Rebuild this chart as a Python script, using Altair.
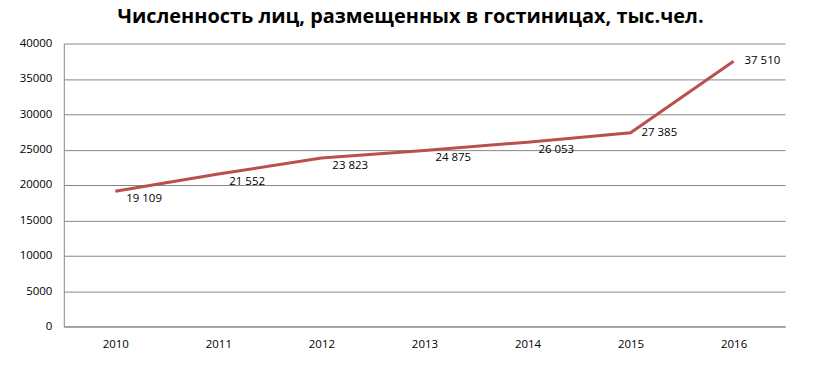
import altair as alt
import pandas as pd

years = ["2010", "2011", "2012", "2013", "2014", "2015", "2016"]
values = [19109, 21552, 23823, 24875, 26053, 27385, 37510]
labels = [f"{v:,}".replace(",", " ") for v in values]
y_ticks = [0, 5000, 10000, 15000, 20000, 25000, 30000, 35000, 40000]
title_text = "Численность лиц, размещенных в гостиницах, тыс.чел."

df = pd.DataFrame({"year": years, "value": values, "label": labels})

FONT = "Open Sans"
LINE = "#B9504C"

x = alt.X("year:O", title=None,
          axis=alt.Axis(labelAngle=0, ticks=False, domainColor="#868686",
                        labelPadding=12, labelFont=FONT, labelFontSize=11.5,
                        labelColor="#000000", grid=False))
y = alt.Y("value:Q", title=None,
          scale=alt.Scale(domain=[0, 40000], nice=False),
          axis=alt.Axis(values=y_ticks, format="d", ticks=False,
                        domainColor="#868686", gridColor="#868686",
                        labelPadding=12, labelFont=FONT, labelFontSize=11.5,
                        labelColor="#000000"))

base = alt.Chart(df).encode(x=x, y=y)

line = base.mark_line(color=LINE, strokeWidth=3)

lab_low = base.mark_text(align="left", baseline="middle", dx=11, dy=8,
                         font=FONT, fontSize=11.5, color="#000000").encode(
    text="label:N").transform_filter(alt.FieldOneOfPredicate(field="year", oneOf=years[:5]))
lab_mid = base.mark_text(align="left", baseline="middle", dx=11, dy=0,
                         font=FONT, fontSize=11.5, color="#000000").encode(
    text="label:N").transform_filter(alt.FieldOneOfPredicate(field="year", oneOf=years[5:]))

title = alt.Chart(pd.DataFrame({"t": [title_text]})).mark_text(
    align="center", baseline="middle", font=FONT, fontSize=20,
    fontWeight="bold", color="#000000").encode(
    text="t:N", x=alt.value(348), y=alt.value(-27))

chart = alt.layer(line, lab_low, lab_mid, title).properties(
    width=724, height=284,
    autosize=alt.AutoSizeParams(type="none"),
    padding={"left": 56, "top": 35, "right": 30, "bottom": 40},
).configure_view(stroke=None)

chart.save("out.html", embed_options={"renderer": "svg", "actions": False})
